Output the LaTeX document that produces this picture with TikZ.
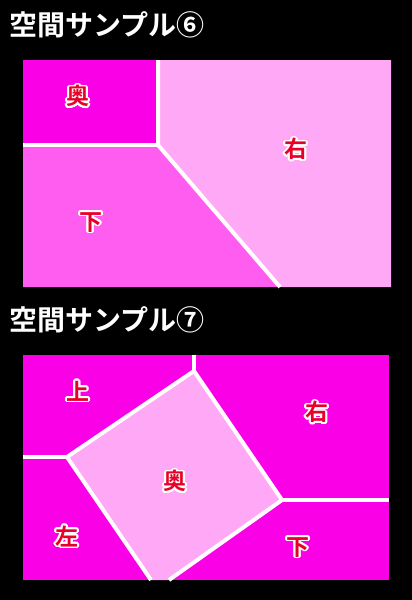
\documentclass[tikz,border=0pt]{standalone}
\usepackage{fontspec}
\usepackage{contour}
\newfontfamily\jpfont{Noto Sans CJK JP Bold}
\contourlength{1.6pt}
\contournumber{24}
\definecolor{deepmag}{RGB}{250,0,230}
\definecolor{midmag}{RGB}{255,92,240}
\definecolor{palemag}{RGB}{255,168,245}
\definecolor{labelred}{RGB}{232,0,40}

\begin{document}
\begin{tikzpicture}[x=1pt,y=-1pt,
heading/.style={anchor=west,inner sep=0pt,text=white,font=\jpfont\fontsize{28}{28}\selectfont},
roomlabel/.style={inner sep=0pt,text=labelred,font=\jpfont\fontsize{23}{23}\selectfont},
wall/.style={draw=white,line width=4pt}]
\useasboundingbox[fill=black] (0,0) rectangle (412,600);

\node (head6) [heading] at (9,25) {空間サンプル⑥};
\coordinate (p6nw) at (23,60);
\coordinate (p6ne) at (391,60);
\coordinate (p6se) at (391,287);
\coordinate (p6sw) at (23,287);
\coordinate (p6top) at (158,60);
\coordinate (p6knee) at (158,145);
\coordinate (p6left) at (23,145);
\coordinate (p6bot) at (280,287);
\fill[deepmag] (p6nw) -- (p6top) -- (p6knee) -- (p6left) -- cycle;
\fill[midmag] (p6left) -- (p6knee) -- (p6bot) -- (p6sw) -- cycle;
\fill[palemag] (p6top) -- (p6ne) -- (p6se) -- (p6bot) -- (p6knee) -- cycle;
\draw[wall] (p6top) -- (p6knee) -- (p6bot);
\draw[wall] (p6left) -- (p6knee);
\node (ura6) [roomlabel] at (78,97) {\contour{white}{奥}};
\node (shita6) [roomlabel] at (91,223) {\contour{white}{下}};
\node (migi6) [roomlabel] at (296,150) {\contour{white}{右}};

\node (head7) [heading] at (9,320) {空間サンプル⑦};
\coordinate (p7nw) at (23,355);
\coordinate (p7ne) at (389,355);
\coordinate (p7se) at (389,580);
\coordinate (p7sw) at (23,580);
\coordinate (p7top) at (194,355);
\coordinate (p7a) at (194,371);
\coordinate (p7b) at (67,457);
\coordinate (p7c) at (282,500);
\coordinate (p7left) at (23,457);
\coordinate (p7right) at (389,500);
\coordinate (p7botl) at (151,580);
\coordinate (p7botr) at (169,580);
\fill[deepmag] (p7nw) -- (p7ne) -- (p7se) -- (p7sw) -- cycle;
\fill[palemag] (p7a) -- (p7c) -- (p7botr) -- (p7botl) -- (p7b) -- cycle;
\draw[wall] (p7top) -- (p7a);
\draw[wall] (p7botl) -- (p7b) -- (p7a) -- (p7c) -- (p7botr);
\draw[wall] (p7left) -- (p7b);
\draw[wall] (p7c) -- (p7right);
\node (ue7) [roomlabel] at (78,392) {\contour{white}{上}};
\node (hidari7) [roomlabel] at (67,537) {\contour{white}{左}};
\node (ura7) [roomlabel] at (175,482) {\contour{white}{奥}};
\node (migi7) [roomlabel] at (317,413) {\contour{white}{右}};
\node (shita7) [roomlabel] at (298,548) {\contour{white}{下}};
\end{tikzpicture}
\end{document}
